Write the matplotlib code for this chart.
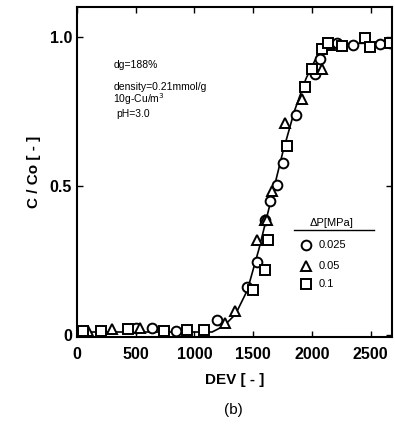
import numpy as np
import matplotlib.pyplot as plt

plt.rcParams['font.family'] = ['Liberation Sans', 'DejaVu Sans']

# dP = 0.025 MPa
dev_c = [500, 640, 840, 1195, 1449, 1534, 1602, 1644, 1703, 1754, 1864, 2025, 2068, 2212, 2347, 2576, 2661]
c_c = [0.025, 0.025, 0.015, 0.05, 0.16, 0.245, 0.387, 0.45, 0.503, 0.576, 0.738, 0.874, 0.924, 0.98, 0.973, 0.975, 0.98]

# dP = 0.05 MPa
dev_t = [90, 300, 540, 1263, 1347, 1534, 1602, 1619, 1661, 1771, 1915, 2085, 2153]
c_t = [0.015, 0.02, 0.025, 0.04, 0.08, 0.318, 0.387, 0.384, 0.483, 0.709, 0.79, 0.89, 0.973]

# dP = 0.1 MPa
dev_s = [50, 200, 430, 740, 940, 1085, 1500, 1602, 1627, 1788, 1940, 2000, 2085, 2136, 2254, 2449, 2492, 2661]
c_s = [0.015, 0.015, 0.02, 0.015, 0.017, 0.017, 0.152, 0.218, 0.318, 0.632, 0.83, 0.89, 0.957, 0.98, 0.967, 0.997, 0.964, 0.98]

# fitted curve
dev_fit = [0, 1150, 1250, 1350, 1450, 1550, 1650, 1750, 1850, 1950, 2050, 2150, 2700]
c_fit = [0.01, 0.01, 0.03, 0.07, 0.15, 0.29, 0.45, 0.61, 0.75, 0.86, 0.94, 0.975, 0.98]

fig = plt.figure(figsize=(3.95, 4.24), dpi=100)
ax = fig.add_axes([0.195, 0.205, 0.797, 0.779])

ax.plot(dev_fit, c_fit, color='black', lw=1.2, zorder=1)
mk = dict(mfc='white', mec='black', mew=1.4, ls='none', ms=7, zorder=2)
ax.plot(dev_c, c_c, marker='o', **mk)
ax.plot(dev_t, c_t, marker='^', **mk)
ax.plot(dev_s, c_s, marker='s', **dict(mk, ms=6.5))

ax.set_xlim(0, 2680)
ax.set_ylim(-0.007, 1.1)
ax.set_xticks([0, 500, 1000, 1500, 2000, 2500])
ax.set_yticks([0, 0.5, 1.0])
ax.set_yticklabels(['0', '0.5', '1.0'])
ax.tick_params(direction='in', top=True, right=True, length=4, width=1,
               labelsize=11.5)
for lab in ax.get_xticklabels() + ax.get_yticklabels():
    lab.set_fontweight('bold')
ax.tick_params(axis='x', pad=7)
for sp in ax.spines.values():
    sp.set_linewidth(1.5)

ax.set_xlabel('DEV [ - ]', fontsize=11, fontweight='bold', labelpad=8)
ax.set_ylabel('C / Co [ - ]', fontsize=11, fontweight='bold', labelpad=6)
fig.text(0.59, 0.033, '(b)', ha='center', va='center', fontsize=11)

ax.text(310, 0.905, 'dg=188%', fontsize=7.5, va='center')
ax.text(310, 0.83, 'density=0.21mmol/g', fontsize=7.5, va='center')
ax.text(310, 0.79, '10g-Cu/m$^3$', fontsize=7.5, va='center')
ax.text(330, 0.74, 'pH=3.0', fontsize=7.5, va='center')

# legend
ax.text(2170, 0.375, '\u0394P[MPa]', fontsize=8, ha='center', va='center')
ax.plot([1850, 2530], [0.352, 0.352], color='black', lw=1)
leg_y = [0.30, 0.23, 0.17]
leg_m = ['o', '^', 's']
leg_t = ['0.025', '0.05', '0.1']
for yy, m, t in zip(leg_y, leg_m, leg_t):
    ax.plot([1950], [yy], marker=m, **mk)
    ax.text(2060, yy, t, fontsize=8, va='center')

fig.savefig('out.png', dpi=100)
